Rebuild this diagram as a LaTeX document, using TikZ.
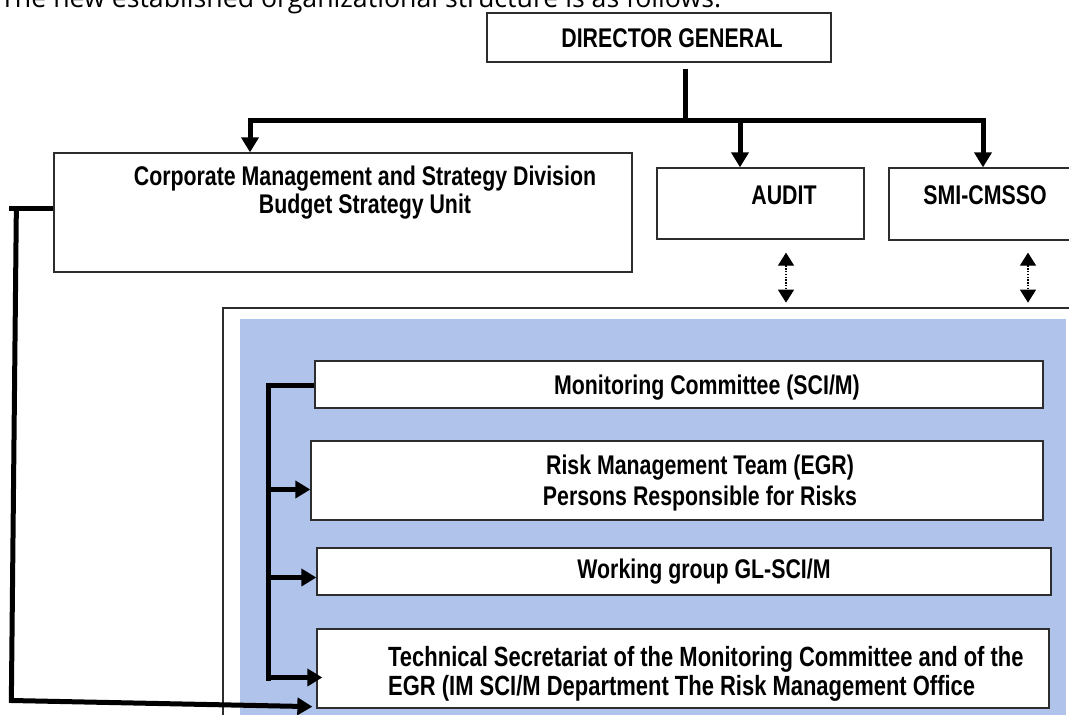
\documentclass[tikz,border=0pt]{standalone}
\usepackage{fontspec}
\setmainfont{Open Sans}
\newfontfamily\narrowfont[FakeStretch=0.79]{Liberation Sans}
\usetikzlibrary{arrows.meta, positioning, calc}
\definecolor{panelblue}{RGB}{176,195,234}
\definecolor{boxline}{RGB}{45,45,45}

\begin{document}
\begin{tikzpicture}[
    x=1pt, y=-1pt,
    font=\narrowfont\bfseries\fontsize{27}{29}\selectfont,
    unit/.style={draw=boxline, line width=1.3pt, fill=white, inner sep=0pt},
    txt/.style={align=center, inner sep=0pt},
    bus/.style={line width=5pt},
    arrow/.style={line width=5pt, -{Triangle[length=15pt, width=17pt]}},
    link/.style={line width=1.3pt, dash pattern=on 1.4pt off 1.4pt,
        {Triangle[length=13pt, width=16pt]}-{Triangle[length=13pt, width=16pt]}}
]
\useasboundingbox (0,0) rectangle (1069,715);
\clip (0,0) rectangle (1069,715);

% Intro line
\node[anchor=base west, inner sep=0pt, font=\fontsize{26.7}{30}\selectfont] (intro) at (0,7.5) {The new established organizational structure is as follows.};

% Panel
\fill[panelblue] (240,319) rectangle (1066,715);
\draw[boxline, line width=1.3pt] (223,715) -- (223,308) -- (1069,308);

% Nodes
\node[unit, minimum width=344pt, minimum height=49pt] (dg) at (659,37.5) {};
\node[txt] (dgtxt) at (672,38) {DIRECTOR GENERAL};

\node[unit, minimum width=578pt, minimum height=119pt] (corp) at (343,212.5) {};
\node[txt, font=\narrowfont\bfseries\fontsize{27}{28}\selectfont] (corptxt) at (365,192.5) {Corporate Management and Strategy Division\\Budget Strategy Unit};

\node[unit, minimum width=207pt, minimum height=71pt] (audit) at (760.5,203.5) {};
\node[txt] (audittxt) at (784,195) {AUDIT};

\node[unit, minimum width=191pt, minimum height=72pt] (smi) at (984.5,204) {};
\node[txt] (smitxt) at (985,195) {SMI-CMSSO};

\node[unit, minimum width=728pt, minimum height=47pt] (mon) at (679,384.5) {};
\node[txt] (montxt) at (707,388) {Monitoring Committee (SCI/M)};

\node[unit, minimum width=732pt, minimum height=79pt] (risk) at (677,480.5) {};
\node[txt, font=\narrowfont\bfseries\fontsize{27}{31}\selectfont] (risktxt) at (700,483) {Risk Management Team (EGR)\\Persons Responsible for Risks};

\node[unit, minimum width=734pt, minimum height=47pt] (work) at (684,571.5) {};
\node[txt] (worktxt) at (704,572) {Working group GL-SCI/M};

\node[unit, minimum width=732pt, minimum height=79pt] (tech) at (683,668.5) {};
\node[txt, align=left, anchor=west, font=\narrowfont\bfseries\fontsize{27.8}{29}\selectfont] (techtxt) at (388,674) {Technical Secretariat of the Monitoring Committee and of the\\EGR (IM SCI/M Department The Risk Management Office};

% Edges
\coordinate (b1) at (250,120);
\coordinate (b2) at (740,120);
\coordinate (b3) at (983,120);
\coordinate (spine) at (268,0);

\draw[bus] (dg.south -| 685,0) ++(0,6) -- (685,120);
\draw[bus, line cap=rect] (b1) -- (b3);
\draw[arrow] (b1) -- (b1 |- corp.north);
\draw[arrow] (b2) -- (b2 |- audit.north);
\draw[arrow] (b3) -- (b3 |- smi.north);

\draw[link] ($(audit.south)+(25.5,13)$) -- ($(audit.south)+(25.5,63)$);
\draw[link] ($(smi.south)+(43.5,12)$) -- ($(smi.south)+(43.5,62)$);

\draw[bus] ($(mon.west)+(0,1)$) -- ($(mon.west -| spine)+(0,1)$) -- ($(tech.west -| spine)+(0,12)$);
\draw[arrow] ($(risk.west -| spine)+(0,9)$) -- ($(risk.west)+(0,9)$);
\draw[arrow] ($(work.west -| spine)+(0,6)$) -- ($(work.west)+(0,6)$);
\draw[arrow] ($(tech.west -| spine)+(0,9)$) -- ($(tech.west)+(6,9)$);

\draw[bus] ($(corp.west)+(0,-4)$) -- ++(-44,0);
\draw[arrow] ($(corp.west)+(-37,-4)$) -- ++(-5,492) -- ($(tech.south west)+(-4,-2)$);

\end{tikzpicture}
\end{document}
